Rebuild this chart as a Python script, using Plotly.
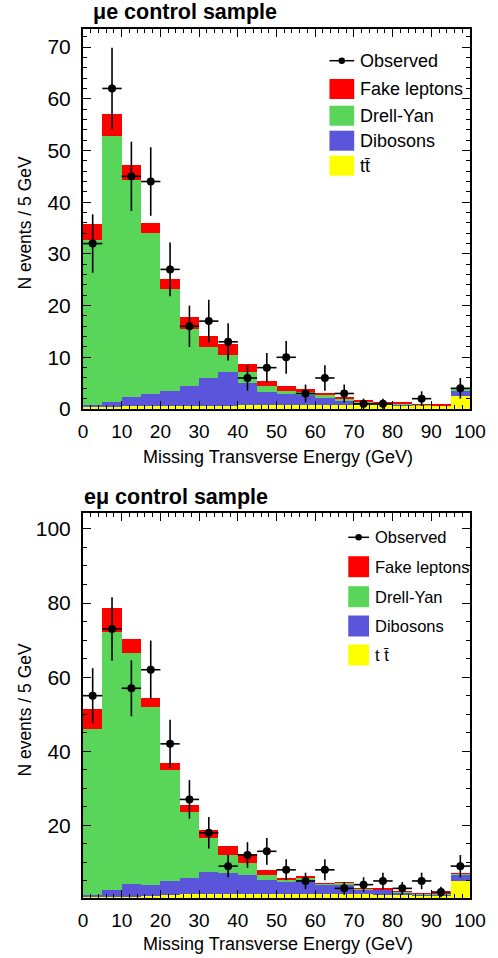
import numpy as np
import plotly.graph_objects as go
from plotly.subplots import make_subplots

# ==================== data ====================
# 5 GeV bins of missing transverse energy, last bin holds the overflow
met_bins = [2.5, 7.5, 12.5, 17.5, 22.5, 27.5, 32.5, 37.5, 42.5, 47.5,
            52.5, 57.5, 62.5, 67.5, 72.5, 77.5, 82.5, 87.5, 92.5, 97.5]

# mu-e control sample (stack contributions)
ttbar_me = [0.3, 0.4, 0.5, 0.5, 0.5, 0.6, 0.6, 0.6, 0.7, 0.7,
            0.7, 0.7, 0.7, 0.7, 0.7, 0.7, 0.6, 0.6, 0.6, 2.5]
diboson_me = [0.4, 0.95, 1.9, 2.4, 3.0, 3.9, 5.4, 6.5, 4.3, 2.6,
              2.2, 2.0, 1.5, 1.0, 0.6, 0.4, 0.3, 0.1, 0.1, 0.9]
dy_me = [31.9, 51.4, 41.9, 31.1, 19.8, 11.0, 6.0, 3.3, 2.2, 1.1,
         0.6, 0.6, 0.5, 0.3, 0.2, 0.1, 0.1, 0.1, 0.05, 0.5]
fake_me = [3.1, 4.4, 2.8, 1.9, 1.9, 2.2, 2.2, 2.1, 1.6, 1.1,
           0.9, 0.6, 0.4, 0.25, 0.2, 0.15, 0.2, 0.1, 0.05, 0.1]
obs_me = [32, 62, 45, 44, 27, 16, 17, 13, 6, 8,
          10, 3, 6, 3, 1, 1, 0, 2, 0, 4]

# e-mu control sample
ttbar_em = [0.6, 0.7, 0.8, 0.9, 1.3, 1.4, 1.5, 1.5, 1.5, 1.5,
            1.5, 1.5, 1.6, 1.6, 1.4, 1.3, 1.2, 1.1, 1.1, 5.0]
diboson_em = [0.6, 1.9, 3.5, 3.1, 3.8, 4.3, 5.9, 5.6, 5.2, 3.7,
              3.3, 3.5, 2.5, 2.3, 1.3, 1.3, 0.7, 0.3, 0.2, 1.7]
dy_em = [44.7, 69.5, 62.2, 47.9, 29.9, 18.0, 9.2, 4.8, 3.2, 1.4,
         0.5, 1.0, 0.2, 0.6, 0.3, 0.2, 0.3, 0.2, 0.2, 0.2]
fake_em = [5.4, 6.5, 3.7, 2.4, 1.7, 1.9, 2.2, 2.6, 2.4, 1.4,
           0.6, 0.1, 0.1, 0.1, 0.1, 0.05, 0.05, 0.05, 0.05, 0.1]
obs_em = [55, 73, 57, 62, 42, 27, 18, 9, 12, 13,
          8, 5, 8, 3, 4, 5, 3, 5, 2, 9]

COLORS = {"fake": "#FF0000", "dy": "#59D659", "diboson": "#5A55DA", "ttbar": "#FFFF00"}
FONT = "Liberation Sans, Arial, Helvetica, sans-serif"

# page geometry (px)
W, H = 498, 958
L, R, T, B = 83, 24, 29, 60


def px_x(x):
    return (x - L) / (W - L - R)


def px_y(y):
    return (H - B - y) / (H - T - B)


fig = make_subplots(rows=2, cols=1)


def add_panel(row, tt, db, dy, fake, obs):
    for vals, key in [(tt, "ttbar"), (db, "diboson"), (dy, "dy"), (fake, "fake")]:
        fig.add_trace(go.Bar(
            x=met_bins, y=vals, width=5, marker_color=COLORS[key],
            marker_line_width=0, showlegend=False, hoverinfo="skip",
        ), row=row, col=1)
    y_obs = [v if v > 0 else None for v in obs]
    fig.add_trace(go.Scatter(
        x=met_bins, y=y_obs, mode="markers",
        marker=dict(color="black", size=8),
        error_y=dict(type="data", array=np.sqrt(obs).tolist(), color="black", thickness=1.6, width=0),
        error_x=dict(type="constant", value=2.5, color="black", thickness=1.6, width=0),
        showlegend=False,
    ), row=row, col=1)


add_panel(1, ttbar_me, diboson_me, dy_me, fake_me, obs_me)
add_panel(2, ttbar_em, diboson_em, dy_em, fake_em, obs_em)

axis_common = dict(
    showline=True, linewidth=2, linecolor="black", mirror="ticks",
    ticks="inside", ticklen=8, tickwidth=1.3, tickcolor="black",
    showgrid=False, zeroline=False,
)
fig.update_xaxes(
    range=[0, 100], dtick=10, tick0=0,
    minor=dict(ticks="inside", dtick=2, ticklen=4, tickcolor="black", showgrid=False),
    tickfont=dict(size=19, color="black", family=FONT), ticklabelstandoff=4,
    **axis_common,
)
fig.update_yaxes(tickfont=dict(size=21, color="black", family=FONT), ticklabelstandoff=6,
                 **axis_common)
fig.update_yaxes(range=[0, 73.5], dtick=10, tick0=0,
                 minor=dict(ticks="inside", dtick=2, ticklen=4, tickcolor="black", showgrid=False),
                 row=1, col=1)
fig.update_yaxes(range=[0.4, 104.3], dtick=20, tick0=0,
                 minor=dict(ticks="inside", dtick=5, ticklen=4, tickcolor="black", showgrid=False),
                 row=2, col=1)

fig.update_layout(
    width=W, height=H, barmode="stack", bargap=0,
    margin=dict(l=L, r=R, t=T, b=B),
    plot_bgcolor="white", paper_bgcolor="white",
    font=dict(family=FONT, color="black"),
    xaxis=dict(domain=[0, 1]), xaxis2=dict(domain=[0, 1]),
    yaxis=dict(domain=[px_y(409), 1]), yaxis2=dict(domain=[0, px_y(513)]),
)

# titles and axis titles
texts = [
    ("<b>\u03bce control sample</b>", 91, 12, 21.5, 0, "left"),
    ("<b>e\u03bc control sample</b>", 82, 497, 21.5, 0, "left"),
    ("Missing Transverse Energy (GeV)", 280, 457, 18, 0, "center"),
    ("Missing Transverse Energy (GeV)", 280, 944, 18, 0, "center"),
    ("N events / 5 GeV", 24, 223, 17.5, -90, "center"),
    ("N events / 5 GeV", 24, 710, 17.5, -90, "center"),
]
for txt, x, y, size, angle, anchor in texts:
    fig.add_annotation(text=txt, x=px_x(x), y=px_y(y), xref="paper", yref="paper",
                       xanchor=anchor, yanchor="middle", showarrow=False, textangle=angle,
                       font=dict(size=size, color="black", family=FONT))


# legends (drawn per panel)
def add_legend(x0, x1, rows_y, box_h, size, labels):
    xc = (x0 + x1) / 2
    fig.add_shape(type="line", xref="paper", yref="paper",
                  x0=px_x(x0), x1=px_x(x1), y0=px_y(rows_y[0]), y1=px_y(rows_y[0]),
                  line=dict(color="black", width=1.5))
    fig.add_shape(type="circle", xref="paper", yref="paper", fillcolor="black",
                  line=dict(color="black", width=0),
                  x0=px_x(xc - 3.3), x1=px_x(xc + 3.3),
                  y0=px_y(rows_y[0] - 3.3), y1=px_y(rows_y[0] + 3.3))
    keys = ["fake", "dy", "diboson", "ttbar"]
    for key, yc in zip(keys, rows_y[1:]):
        fig.add_shape(type="rect", xref="paper", yref="paper", fillcolor=COLORS[key],
                      line=dict(width=0),
                      x0=px_x(x0), x1=px_x(x1),
                      y0=px_y(yc + box_h / 2), y1=px_y(yc - box_h / 2))
    for label, yc in zip(labels, rows_y):
        fig.add_annotation(text=label, x=px_x(x1 + 4), y=px_y(yc), xref="paper", yref="paper",
                           xanchor="left", yanchor="middle", showarrow=False,
                           font=dict(size=size, color="black", family=FONT))


add_legend(332, 357, [60.7, 89, 115.7, 140.7, 165.7], 20, 18,
           ["Observed", "Fake leptons", "Drell-Yan", "Dibosons", "tt\u0304"])
add_legend(351, 372, [537.3, 566.7, 596.7, 626, 655], 21, 16.5,
           ["Observed", "Fake leptons", "Drell-Yan", "Dibosons", "t t\u0304"])

# the page body has a default 8px margin; drop it so the figure sits at (0, 0)
fig.write_html("out.html", config={"displayModeBar": False},
               post_script="document.body.style.margin='0';")
